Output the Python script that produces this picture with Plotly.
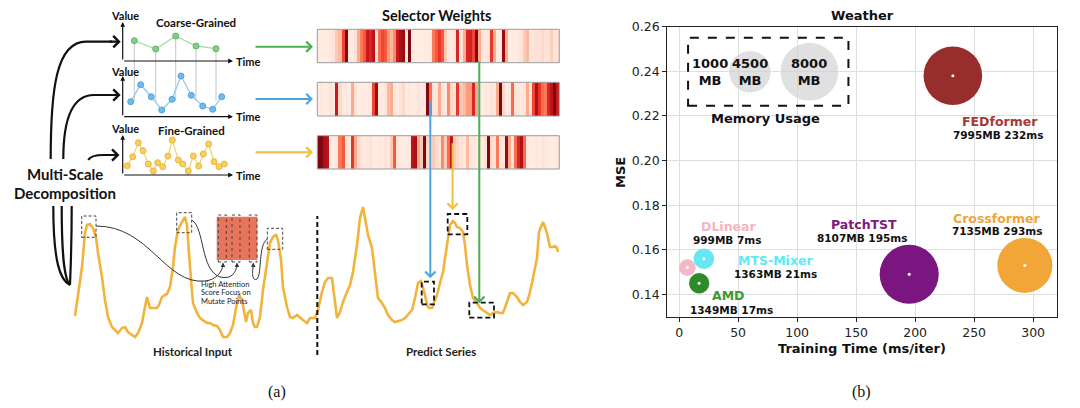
import math
import plotly.graph_objects as go

# ============================ DATA ============================
# Panel (b): Weather - efficiency comparison
models = ["FEDformer", "PatchTST", "Crossformer", "DLinear", "MTS-Mixer", "AMD"]
train_time_ms = [232, 195, 293, 7, 21, 17]
mse = [0.238, 0.149, 0.153, 0.152, 0.156, 0.145]
memory_mb = [7995, 8107, 7135, 999, 1363, 1349]
memory_legend_mb = [1000, 4500, 8000]
x_tick_vals = [0, 50, 100, 150, 200, 250, 300]
y_tick_vals = [0.14, 0.16, 0.18, 0.20, 0.22, 0.24, 0.26]

# Panel (a): multi-scale decomposition sketch
coarse_t = [11.6, 33.0, 53.0, 73.3, 93.3]
coarse_v = [20.3, 12.0, 25.0, 15.0, 12.3]
mid_t = [8.0, 18.0, 28.6, 39.0, 49.3, 58.3, 68.6, 80.0, 90.0, 99.0]
mid_v = [15.0, 32.0, 20.0, 6.7, 17.4, 40.7, 21.4, 10.7, 7.4, 20.0]
fine_t = [4.6, 10.0, 15.6, 20.3, 25.6, 30.6, 35.0, 40.0, 45.3, 49.6,
          55.6, 60.0, 65.6, 70.6, 76.0, 80.6, 86.0, 91.3, 96.3, 101.6]
fine_v = [9.3, 18.3, 32.3, 24.3, 11.0, 4.0, 12.3, 8.3, 19.0, 35.0,
          15.0, 11.0, 4.0, 19.0, 9.0, 21.0, 31.0, 13.3, 8.3, 11.0]

weights_coarse = [0.06, 0.05, 0.06, 0.05, 0.08, 0.10, 0.20, 0.25, 0.60, 0.95,
                  0.08, 0.06, 0.10, 0.30, 0.45, 0.55, 0.75, 0.70, 0.80, 0.12,
                  0.50, 0.60, 0.55, 0.35, 0.25, 0.40, 0.75, 0.85, 0.90, 0.10,
                  0.95, 0.06, 0.04, 0.05, 0.05, 0.06, 0.05, 0.08, 0.45, 0.55,
                  0.65, 0.55, 0.20, 0.08, 0.06, 0.10, 0.70, 0.10, 0.30, 0.70,
                  0.72, 0.60, 0.95, 0.30, 0.10, 0.06, 0.10, 0.65, 0.30, 0.06,
                  0.06, 0.90, 0.30, 0.05, 0.06, 0.05, 0.08, 0.10, 0.20, 0.25,
                  0.08, 0.10, 0.12, 0.10, 0.15, 0.10, 0.12, 0.18, 0.10, 0.12]
weights_mid = [0.06, 0.08, 0.05, 0.06, 0.10, 0.08, 0.75, 0.15, 0.06, 0.08,
               0.06, 0.30, 0.10, 0.05, 0.06, 0.05, 0.06, 0.08, 0.60, 0.90,
               0.08, 0.06, 0.10, 0.25, 0.30, 0.08, 0.06, 0.10, 0.15, 0.06,
               0.08, 0.05, 0.06, 0.10, 0.06, 0.08, 0.95, 0.50, 0.10, 0.08,
               0.30, 0.10, 0.08, 0.40, 0.15, 0.12, 0.65, 0.20, 0.25, 0.35,
               0.35, 0.70, 0.30, 0.06, 0.05, 0.08, 0.06, 0.10, 0.08, 0.30,
               0.95, 0.15, 0.06, 0.08, 0.50, 0.10, 0.08, 0.06, 0.10, 0.30,
               0.10, 0.60, 0.85, 0.65, 0.50, 0.45, 0.70, 0.80, 0.95, 0.75]
weights_fine = [0.95, 0.95, 0.85, 0.80, 0.06, 0.05, 0.08, 0.45, 0.55, 0.10,
                0.08, 0.65, 0.30, 0.15, 0.10, 0.06, 0.08, 0.10, 0.06, 0.05,
                0.08, 0.06, 0.10, 0.08, 0.20, 0.55, 0.10, 0.06, 0.05, 0.06,
                0.08, 0.80, 0.85, 0.30, 0.20, 0.95, 0.15, 0.10, 0.20, 0.15,
                0.10, 0.40, 0.20, 0.50, 0.80, 0.20, 0.15, 0.10, 0.08, 0.25,
                0.10, 0.08, 0.06, 0.08, 0.06, 0.10, 0.95, 0.15, 0.10, 0.45,
                0.10, 0.08, 0.90, 0.30, 0.10, 0.50, 0.70, 0.85, 0.50, 0.08,
                0.06, 0.05, 0.08, 0.06, 0.10, 0.08, 0.06, 0.05, 0.06, 0.08]

series_t = [0, 3, 7, 10, 12, 15, 18, 21, 23, 27,
            30, 33, 37, 40, 43, 47, 50, 53, 57, 60,
            63, 67, 70, 72, 75, 78, 82, 84, 87, 90,
            92, 95, 98, 100, 103, 107, 110, 112, 113, 115,
            118, 122, 125, 128, 132, 135, 138, 142, 145, 148,
            152, 155, 158, 162, 164, 167, 169, 171, 173, 176,
            178, 180, 182, 185, 188, 192, 195, 198, 201, 203,
            206, 208, 212, 215, 218, 222, 225, 228, 232, 235,
            238, 240, 243, 247, 250, 253, 257, 259, 262, 265,
            268, 272, 275, 278, 282, 285, 288, 290, 293, 297,
            300, 303, 307, 310, 313, 317, 320, 323, 327, 330,
            333, 337, 340, 343, 346, 348, 350, 352, 354, 357,
            359, 362, 365, 368, 372, 375, 378, 380, 382, 385,
            388, 390, 392, 395, 398, 402, 405, 408, 412, 415,
            418, 422, 425, 428, 432, 435, 438, 442, 445, 448,
            452, 455, 458, 462, 464, 467, 468, 470, 472, 475,
            478, 480, 482, 483]
series_v = [24, 43, 73, 107, 115, 116, 112, 103, 87, 63,
            40, 23, 13, 10, 7, 12, 13, 8, 5, 3,
            7, 17, 33, 43, 32, 32, 32, 35, 43, 45,
            46, 53, 73, 93, 110, 118, 123, 115, 100, 73,
            37, 27, 22, 20, 17, 17, 15, 14, 10, 3,
            3, 7, 15, 37, 45, 40, 27, 18, 27, 30,
            17, 13, 13, 23, 50, 80, 97, 103, 105, 100,
            80, 53, 33, 23, 22, 25, 22, 20, 17, 22,
            22, 22, 30, 48, 58, 62, 62, 45, 22, 28,
            38, 48, 55, 68, 95, 122, 133, 122, 105, 92,
            68, 42, 37, 32, 25, 20, 18, 19, 20, 22,
            25, 30, 42, 57, 59, 53, 45, 35, 32, 32,
            38, 45, 57, 68, 95, 115, 119, 117, 113, 112,
            108, 95, 75, 55, 42, 37, 32, 30, 27, 25,
            27, 28, 27, 27, 38, 47, 47, 43, 38, 35,
            38, 48, 62, 82, 108, 115, 118, 113, 107, 93,
            93, 94, 92, 88]

# ============================ LAYOUT HELPERS ============================
W, H = 1080, 408


def X(p):
    return p / W


def Y(p):
    return 1 - p / H


def xdom(a, b):
    return [X(a), X(b)]


def ydom(top, bottom):
    return [Y(bottom), Y(top)]


def P(tokens):
    out = []
    for t in tokens:
        if isinstance(t, str):
            out.append(t)
        else:
            out.append(f"{X(t[0]):.5f},{Y(t[1]):.5f}")
    return " ".join(out)


def bubble_size(m):
    return 0.726 * math.sqrt(m) - 6.3


DIAG_FONT = "Lato"
PLOT_FONT = "DejaVu Sans"
GREEN, BLUE, YELLOW = "#4DAF55", "#4EA6E0", "#F3BE3C"
SERIES_COLOR = "#F2B33D"
REDS = [[0, "#fff5f0"], [0.125, "#fee0d2"], [0.25, "#fcbba1"], [0.375, "#fc9272"],
        [0.5, "#fb6a4a"], [0.625, "#ef3b2c"], [0.75, "#cb181d"], [0.875, "#a50f15"],
        [1, "#67000d"]]

fig = go.Figure()


def text(x, y, s, size, color="#111", family=DIAG_FONT, anchor="center", angle=0, ref="paper"):
    if ref == "paper":
        x, y, xr, yr = X(x), Y(y), "paper", "paper"
    else:
        xr, yr = "x", "y"
    fig.add_annotation(x=x, y=y, xref=xr, yref=yr, text=s, showarrow=False, xanchor=anchor,
                       yanchor="middle", textangle=angle,
                       font=dict(family=family, size=size, color=color))


def arrow(tip, tail, color, width=2.0, head=4, size=1.0):
    fig.add_annotation(x=X(tip[0]), y=Y(tip[1]), xref="paper", yref="paper",
                       ax=tail[0] - tip[0], ay=tail[1] - tip[1], axref="pixel", ayref="pixel",
                       xanchor="center", yanchor="middle",
                       showarrow=True, arrowhead=head, arrowsize=size, arrowwidth=width,
                       arrowcolor=color, text="", standoff=0, startstandoff=0)


# ============================ PANEL (b) ============================
bubble_colors = ["#982E2C", "#7B1580", "#F1A637", "#F3B9C6", "#66E8F2", "#2E8A2B"]
label_colors = ["#A33B37", "#7D1A80", "#F0A43A", "#F4B5C3", "#5EEAF2", "#3A9A33"]

fig.add_trace(go.Scatter(
    x=train_time_ms, y=mse, mode="markers", xaxis="x", yaxis="y",
    marker=dict(size=[bubble_size(m) for m in memory_mb], color=bubble_colors,
                line=dict(width=0), opacity=1),
    hoverinfo="skip"))
fig.add_trace(go.Scatter(
    x=train_time_ms, y=mse, mode="markers", xaxis="x", yaxis="y",
    marker=dict(size=3, color="white"), hoverinfo="skip"))

# memory legend bubbles (the smallest one is only a label in the source)
legend_pos_x = [26, 60, 110.4]
legend_pos_y = 0.2398
fig.add_trace(go.Scatter(
    x=legend_pos_x[1:], y=[legend_pos_y] * 2, mode="markers", xaxis="x", yaxis="y",
    marker=dict(size=[bubble_size(m) for m in memory_legend_mb[1:]], color="#D3D3D3"),
    hoverinfo="skip"))
for mx, m in zip(legend_pos_x, memory_legend_mb):
    text(mx, legend_pos_y, f"<b>{m}<br>MB</b>", 13, family=PLOT_FONT, ref="data")
fig.add_shape(type="rect", xref="x", yref="y", x0=7.6, x1=143.5, y0=0.2246, y1=0.2551,
              line=dict(color="#111", width=2, dash="dash"))
text(73, 0.2187, "<b>Memory Usage</b>", 13, family=PLOT_FONT, ref="data")

# model labels (position of name and of the "memory / time" line)
label_layout = [
    (272.2, 0.2176, 270.5, 0.2114),
    (156.8, 0.1714, 155.1, 0.1654),
    (269.4, 0.1741, 269.7, 0.1685),
    (42.2, 0.1706, 41.3, 0.1644),
    (81.8, 0.1551, 81.8, 0.1490),
    (42.2, 0.1394, 44.7, 0.1330),
]
for name, mem, tt, col, (nx, ny, sx, sy) in zip(models, memory_mb, train_time_ms, label_colors, label_layout):
    text(nx, ny, f"<b>{name}</b>", 12.5, color=col, family=PLOT_FONT, ref="data")
    text(sx, sy, f"<b>{mem}MB {tt}ms</b>", 10.5, family=PLOT_FONT, ref="data")

text(862, 15.7, "<b>Weather</b>", 13, family=PLOT_FONT)
text(862, 348, "<b>Training Time (ms/iter)</b>", 13, family=PLOT_FONT)
text(620, 173, "<b>MSE</b>", 13, family=PLOT_FONT, angle=-90)

# ============================ PANEL (a) ============================
# selector weight strips
for i, w in enumerate([weights_coarse, weights_mid, weights_fine]):
    ax_id = i + 2
    fig.add_trace(go.Heatmap(z=[w], x=list(range(len(w))), y=[0], colorscale=REDS, zmin=0, zmax=1,
                             showscale=False, xaxis=f"x{ax_id}", yaxis=f"y{ax_id}", hoverinfo="skip"))
    fig.add_shape(type="rect", xref=f"x{ax_id} domain", yref=f"y{ax_id} domain", x0=0, x1=1, y0=0, y1=1,
                  line=dict(color="#9a9a9a", width=1))

# mini charts
fig.add_trace(go.Scatter(
    x=[v for t in coarse_t for v in (t, t, None)],
    y=[v for c in coarse_v for v in (c, -40, None)],
    mode="lines", line=dict(color="#b5b5b5", width=0.8), xaxis="x5", yaxis="y5", hoverinfo="skip"))
mini = [
    (coarse_t, coarse_v, "x5", "y5", "#A9DBA9", "#86CC88", "#5DB864"),
    (mid_t, mid_v, "x6", "y6", "#93CBF0", "#73BBEB", "#4EA3DE"),
    (fine_t, fine_v, "x7", "y7", "#F5D477", "#F6D060", "#EDB737"),
]
for t, v, xa, ya, lc, mc, oc in mini:
    fig.add_trace(go.Scatter(x=t, y=v, mode="lines+markers", xaxis=xa, yaxis=ya, cliponaxis=False,
                             line=dict(color=lc, width=1.3),
                             marker=dict(size=6, color=mc, line=dict(color=oc, width=1)),
                             hoverinfo="skip"))

# main series
fig.add_trace(go.Scatter(x=series_t, y=series_v, mode="lines", xaxis="x8", yaxis="y8",
                         line=dict(color=SERIES_COLOR, width=2.6), hoverinfo="skip"))

# mini chart axes
for base_y, top_y in [(61, 22), (116.7, 76), (175, 135)]:
    arrow((122.7, top_y), (122.7, base_y), "#111", width=1.2, head=2, size=0.8)
    arrow((233, base_y), (122.7, base_y), "#111", width=1.2, head=2, size=0.8)
for vy in [15.7, 71, 128.3]:
    text(125.3, vy, "<b>Value</b>", 11)
for ty in [61, 116.7, 175]:
    text(233.5, ty, "<b>Time</b>", 11, anchor="left")
text(196, 22.3, "<b>Coarse-Grained</b>", 11.5)
text(191.7, 130, "<b>Fine-Grained</b>", 11.5)
text(437.3, 15.7, "<b>Selector Weights</b>", 14.5)

# coloured arrows into the strips
arrow((313, 46.7), (254, 46.7), GREEN)
arrow((313, 99), (254, 99), BLUE)
arrow((313, 152.3), (254, 152.3), YELLOW)
# selector arrows down onto the prediction
arrow((479.3, 303.3), (479.3, 60), GREEN)
arrow((430.3, 278.3), (430.3, 100), BLUE)
arrow((452.6, 210), (452.6, 141.7), YELLOW)

# multi-scale decomposition text and curves
text(65, 174.3, "<b>Multi-Scale</b>", 15)
text(65, 193.3, "<b>Decomposition</b>", 15)
black_curves = [
    ["M", (50.7, 159), "C", (50.7, 90), (56, 41.7), (86, 41.7), "L", (112, 41.7)],
    ["M", (63.3, 159), "C", (63.3, 120), (72, 95), (94, 95), "L", (112, 95)],
    ["M", (88.3, 160), "C", (90, 156), (95, 155), (104, 155), "L", (111, 155)],
    ["M", (53.3, 206), "C", (53.3, 262), (60, 280), (70, 285)],
    ["M", (61.7, 206), "C", (61.7, 262), (65, 280), (70, 285)],
    ["M", (71.7, 206), "C", (71.7, 250), (70.5, 270), (70, 285)],
]
for c in black_curves:
    fig.add_shape(type="path", xref="paper", yref="paper", path=P(c), line=dict(color="#111", width=2.2))
arrow((120.7, 41.7), (108, 41.7), "#111", width=2.2)
arrow((120.7, 95), (108, 95), "#111", width=2.2)
arrow((119.5, 155), (107, 155), "#111", width=2.2)

# attention matrix
fig.add_shape(type="rect", xref="paper", yref="paper", x0=X(216.7), x1=X(257.3), y0=Y(260), y1=Y(216.7),
              fillcolor="#E9745C", line=dict(width=0))
for cx0, cx1 in [(218.3, 226.3), (232.0, 240.0), (249.3, 257.0)]:
    fig.add_shape(type="rect", xref="paper", yref="paper", x0=X(cx0), x1=X(cx1), y0=Y(262), y1=Y(215),
                  line=dict(color="#444", width=1, dash="dot"))
thin_curves = [
    ["M", (96, 226), "C", (150, 226), (165, 285), (205, 281), "C", (216, 280), (222, 272), (223, 265)],
    ["M", (191.7, 220), "C", (205, 228), (200, 270), (220, 277), "C", (232, 280), (236, 272), (237, 265)],
    ["M", (267.3, 239), "C", (258, 245), (262, 275), (257, 279), "C", (252, 282), (252, 272), (253.3, 266)],
]
for c in thin_curves:
    fig.add_shape(type="path", xref="paper", yref="paper", path=P(c), line=dict(color="#333", width=1))
for tx in [223, 237, 253.3]:
    arrow((tx, 262.5), (tx, 267), "#333", width=1, head=2, size=0.9)
for i, line in enumerate(["High Attention", "Score Focus on", "Mutate Points"]):
    text(199.3, 284 + 8.8 * i, line, 7.5, color="#222", anchor="left")

# highlight boxes on the series (in series coordinates)
hist_boxes = [(6.7, 21, 102.7, 124), (101.7, 116.7, 107.3, 127.3), (192.3, 207.7, 90.7, 111.7)]
pred_boxes = [(372.7, 392.3, 105.7, 126), (346.7, 359, 35.7, 58.3), (394.3, 419, 22.3, 37.3)]
for x0, x1, y0, y1 in hist_boxes:
    fig.add_shape(type="rect", xref="x8", yref="y8", x0=x0, x1=x1, y0=y0, y1=y1,
                  line=dict(color="#444", width=1, dash="3px,2px"))
for x0, x1, y0, y1 in pred_boxes:
    fig.add_shape(type="rect", xref="x8", yref="y8", x0=x0, x1=x1, y0=y0, y1=y1,
                  line=dict(color="#111", width=1.8, dash="5px,3px"))
fig.add_shape(type="line", xref="x8", yref="paper", x0=242.3, x1=242.3, y0=Y(355), y1=Y(216),
              line=dict(color="#111", width=2, dash="5px,3px"))
text(193, 351, "<b>Historical Input</b>", 11.5, color="#222")
text(441, 351, "<b>Predict Series</b>", 11.5, color="#222")

# sub-figure captions
text(277, 392, "(a)", 16, family="Liberation Serif")
text(861, 392, "(b)", 16, family="Liberation Serif")

# ============================ AXES ============================
hidden = dict(visible=False, fixedrange=True, showgrid=False, zeroline=False)
axis_font = dict(family=PLOT_FONT, size=12.5, color="#222")
fig.update_layout(
    width=W, height=H, template="none",
    margin=dict(l=0, r=0, t=0, b=0, pad=0),
    paper_bgcolor="white", plot_bgcolor="rgba(0,0,0,0)", showlegend=False,
    xaxis=dict(domain=xdom(667.3, 1056.7), range=[-10, 320], tickvals=x_tick_vals,
               showgrid=True, gridcolor="#DEDEDE", gridwidth=1, zeroline=False,
               showline=True, linecolor="#222", linewidth=1.2, mirror=True,
               ticks="outside", ticklen=4, tickcolor="#222", tickfont=axis_font),
    yaxis=dict(domain=ydom(26.7, 316.7), range=[0.13, 0.26], tickvals=y_tick_vals, tickformat=".2f",
               showgrid=True, gridcolor="#DEDEDE", gridwidth=1, zeroline=False,
               showline=True, linecolor="#222", linewidth=1.2, mirror=True,
               ticks="outside", ticklen=4, tickcolor="#222", tickfont=axis_font),
    xaxis2=dict(domain=xdom(317.3, 559.3), range=[-0.5, 79.5], **hidden),
    yaxis2=dict(domain=ydom(29.3, 62.7), range=[-0.5, 0.5], **hidden),
    xaxis3=dict(domain=xdom(317.3, 559.3), range=[-0.5, 79.5], **hidden),
    yaxis3=dict(domain=ydom(82.3, 116.0), range=[-0.5, 0.5], **hidden),
    xaxis4=dict(domain=xdom(317.3, 559.3), range=[-0.5, 79.5], **hidden),
    yaxis4=dict(domain=ydom(135.7, 169.0), range=[-0.5, 0.5], **hidden),
    xaxis5=dict(domain=xdom(122.7, 232.7), range=[0, 110], **hidden),
    yaxis5=dict(domain=ydom(21.7, 110.0), range=[-49, 39.3], **hidden),
    xaxis6=dict(domain=xdom(122.7, 232.7), range=[0, 110], **hidden),
    yaxis6=dict(domain=ydom(75.0, 116.7), range=[0, 41.7], **hidden),
    xaxis7=dict(domain=xdom(122.7, 232.7), range=[0, 110], **hidden),
    yaxis7=dict(domain=ydom(135.0, 175.0), range=[0, 40], **hidden),
    xaxis8=dict(domain=xdom(70, 565), range=[-5, 490], **hidden),
    yaxis8=dict(domain=ydom(195, 345), range=[-5, 145], **hidden),
)

fig.write_html("out.html", config={"displayModeBar": False, "staticPlot": True},
               post_script="document.body.style.margin='0';")
